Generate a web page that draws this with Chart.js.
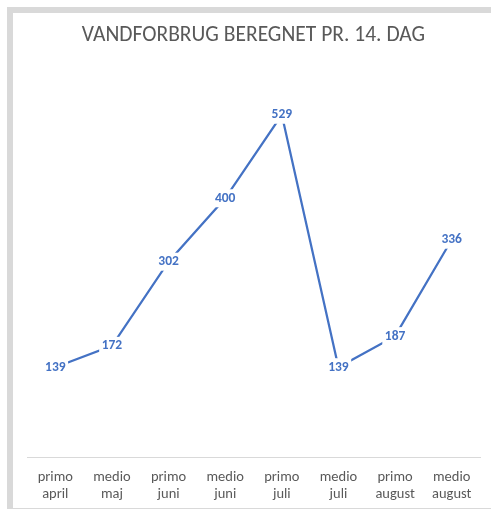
<!DOCTYPE html>
<html>
<head>
<meta charset="utf-8">
<script src="https://cdn.jsdelivr.net/npm/chart.js@4"></script>
<style>
  html, body { margin: 0; padding: 0; background: #fff; }
  #frame {
    position: absolute; left: 7px; top: 7px;
    width: 478px; height: 495px;
    border-top: 6px solid #d9d9d9;
    border-left: 6px solid #d9d9d9;
    border-bottom: 1px solid #d9d9d9;
  }
</style>
</head>
<body>
<div id="frame"><canvas id="waterChart" width="478" height="495"></canvas></div>
<script>
// ---------------- DATA ----------------
const periods = [
  ["primo", "april"], ["medio", "maj"], ["primo", "juni"], ["medio", "juni"],
  ["primo", "juli"], ["medio", "juli"], ["primo", "august"], ["medio", "august"]
];
const usage = [139, 172, 302, 400, 529, 139, 187, 336];
const yMin = 0;
const yMax = 600;

const FONT = "Calibri, Carlito, Lato, 'Liberation Sans', sans-serif";
const BLUE = "#4472C4";

// value labels drawn on top of the points, with a white box that hides the line
const pointLabels = {
  id: "pointLabels",
  afterDatasetsDraw(chart) {
    const ctx = chart.ctx;
    const meta = chart.getDatasetMeta(0);
    ctx.save();
    ctx.font = "bold 13.5px " + FONT;
    ctx.textAlign = "center";
    ctx.textBaseline = "middle";
    meta.data.forEach((pt, i) => {
      const txt = String(usage[i]);
      const w = ctx.measureText(txt).width + 5;
      ctx.fillStyle = "#fff";
      ctx.fillRect(pt.x - w / 2, pt.y - 9, w, 18);
      ctx.fillStyle = BLUE;
      ctx.fillText(txt, pt.x, pt.y);
    });
    ctx.restore();
  }
};

new Chart(document.getElementById("waterChart"), {
  type: "line",
  data: {
    labels: periods,
    datasets: [{
      label: "Vandforbrug",
      data: usage,
      borderColor: BLUE,
      borderWidth: 2.25,
      pointRadius: 0,
      tension: 0,
      fill: false
    }]
  },
  options: {
    responsive: false,
    animation: false,
    layout: { padding: { left: 14, right: 11, top: 0, bottom: -6 } },
    plugins: {
      legend: { display: false },
      tooltip: { enabled: false },
      title: {
        display: true,
        text: "VANDFORBRUG BEREGNET PR. 14. DAG",
        color: "#595959",
        font: { family: FONT, size: 21.5, weight: "normal" },
        padding: { top: 10, bottom: 20 }
      }
    },
    scales: {
      x: {
        offset: true,
        grid: { display: false, drawTicks: false },
        border: { display: true, color: "#d9d9d9", width: 1 },
        ticks: {
          color: "#595959",
          padding: 11,
          maxRotation: 0,
          autoSkip: false,
          font: { family: FONT, size: 14.5, lineHeight: 1.2 }
        }
      },
      y: {
        display: false,
        min: yMin,
        max: yMax
      }
    }
  },
  plugins: [pointLabels]
});
</script>
</body>
</html>
